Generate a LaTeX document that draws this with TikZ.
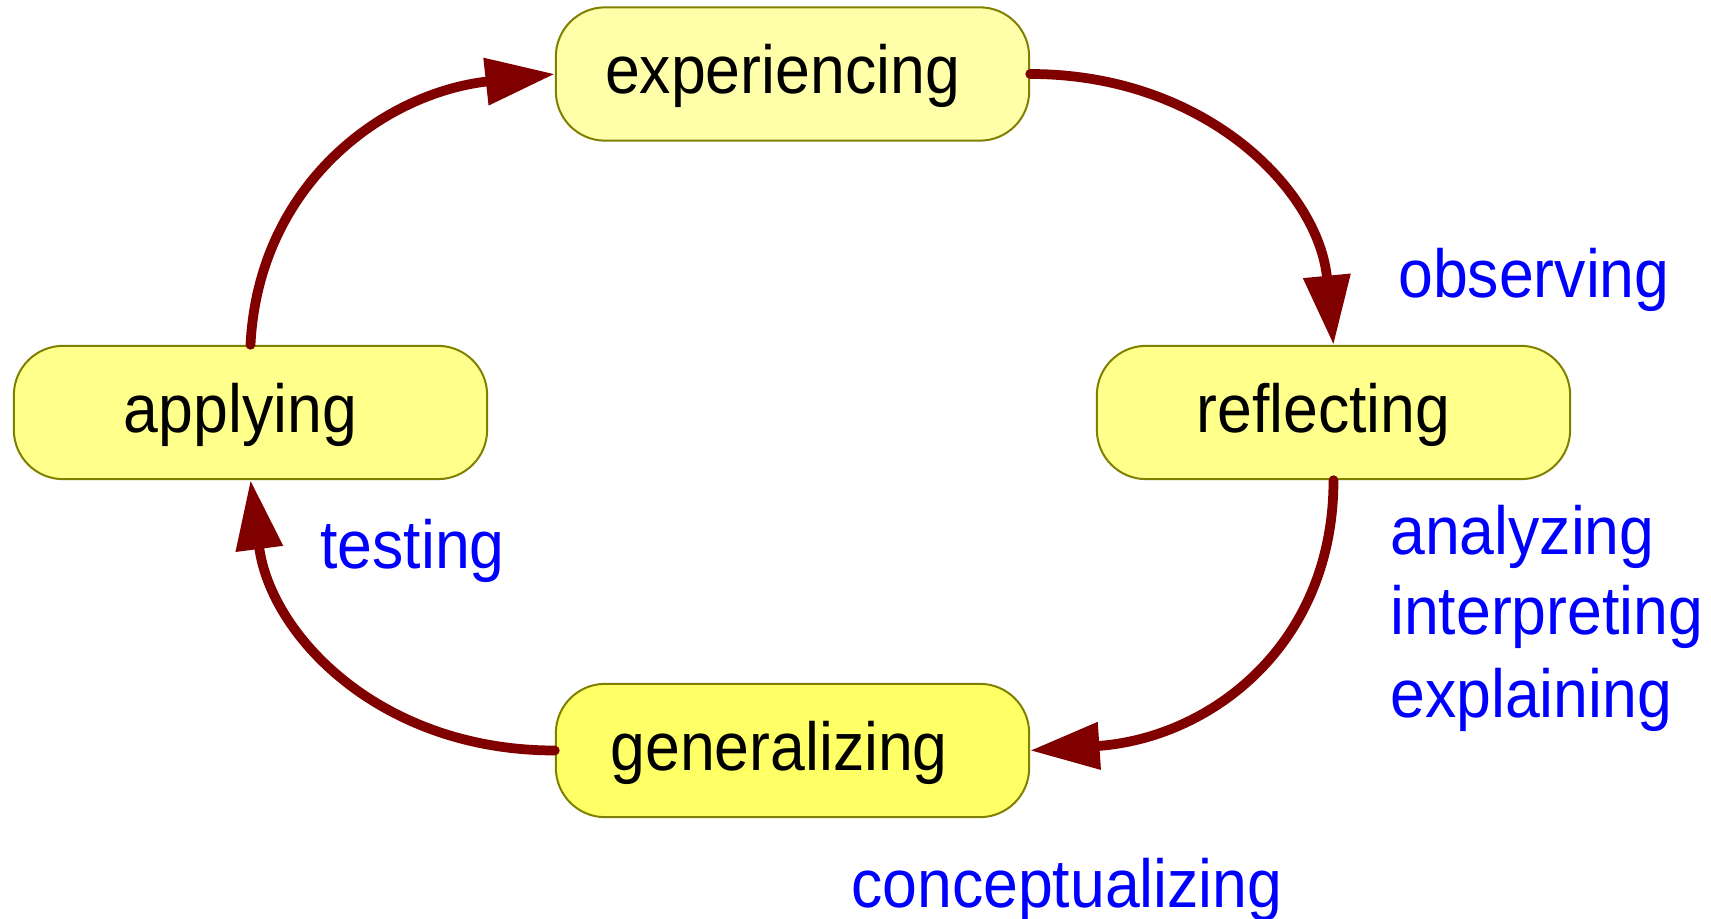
\documentclass[tikz,border=0pt]{standalone}
\usepackage{fontspec}
\newfontfamily\lsans[FakeStretch=0.92]{Liberation Sans}
\usetikzlibrary{arrows.meta}
\definecolor{boxline}{HTML}{808000}
\definecolor{arrowred}{HTML}{800000}
\definecolor{fillA}{HTML}{FFFFAA}
\definecolor{fillB}{HTML}{FFFF8C}
\definecolor{fillC}{HTML}{FFFF66}
\tikzset{
  stagebox/.style={draw=boxline, line width=1.5pt, rounded corners=37pt,
    minimum width=355pt, minimum height=100pt, inner sep=0pt,
    text height=36pt, text depth=6pt,
    font=\lsans\fontsize{51pt}{60pt}\selectfont},
  cyclearrow/.style={draw=arrowred, line width=7.3pt, line cap=round,
    -{Triangle[length=52pt,width=34pt]}},
  sidelabel/.style={anchor=base west, text=blue, inner sep=0pt,
    font=\lsans\fontsize{51pt}{60pt}\selectfont}
}
\begin{document}
\begin{tikzpicture}[x=0.75pt, y=-0.75pt]
\useasboundingbox (0,0) rectangle (1711,919);

\node[stagebox, fill=fillA] (exp) at (792.5,74)    {experiencing\hspace*{15pt}};
\node[stagebox, fill=fillB] (ref) at (1333.5,412.5) {reflecting\hspace*{15pt}};
\node[stagebox, fill=fillB] (app) at (250.5,412.5)  {applying\hspace*{15pt}};
\node[stagebox, fill=fillC] (gen) at (792.5,750.5)  {generalizing\hspace*{20pt}};

\draw[cyclearrow] (exp.east) .. controls +(175,0) and +(-15,-155) .. (ref.north);
\draw[cyclearrow] (ref.south) .. controls +(0,165) and +(180,-12) .. (gen.east);
\draw[cyclearrow] (gen.west) .. controls +(-175,0) and +(20,155) .. (app.south);
\draw[cyclearrow] (app.north) .. controls +(8,-160) and +(-172,19) .. (exp.west);

\node[sidelabel] (obs) at (1398,298) {observing};
\node[sidelabel] (ana) at (1390,555) {analyzing};
\node[sidelabel] (int) at (1390,635) {interpreting};
\node[sidelabel] (expl) at (1390,717) {explaining};
\node[sidelabel] (tst) at (320,569) {testing};
\node[sidelabel] (con) at (851,907) {conceptualizing};
\end{tikzpicture}
\end{document}
